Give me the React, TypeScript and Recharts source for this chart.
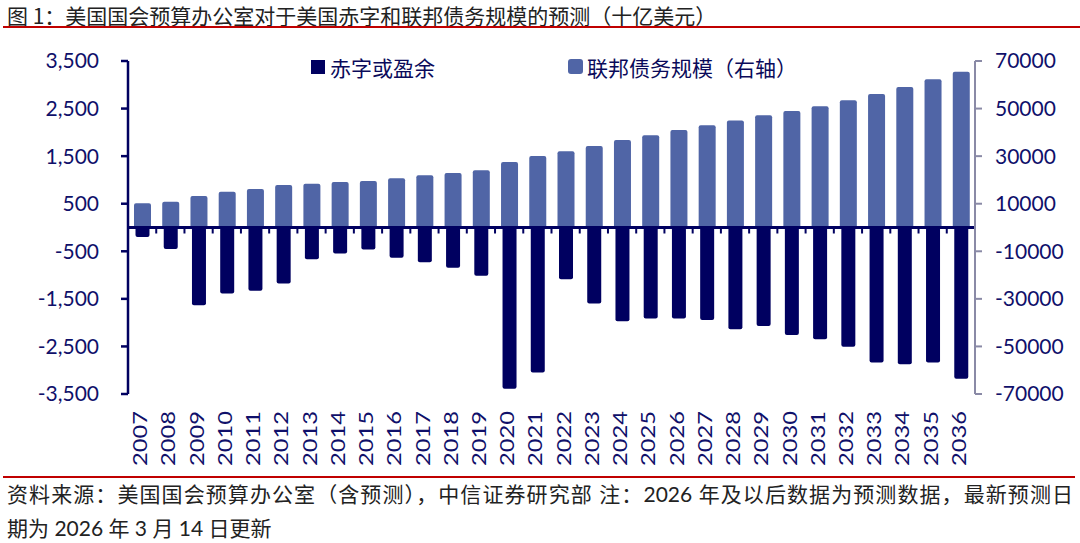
import { BarChart, Bar, XAxis, YAxis, ReferenceLine } from 'recharts'

const years = [
  '2007', '2008', '2009', '2010', '2011', '2012', '2013', '2014', '2015', '2016',
  '2017', '2018', '2019', '2020', '2021', '2022', '2023', '2024', '2025', '2026',
  '2027', '2028', '2029', '2030', '2031', '2032', '2033', '2034', '2035', '2036',
]

// 赤字或盈余（十亿美元，左轴）
const deficit = [
  -200, -450, -1635, -1385, -1330, -1175, -670, -545, -460, -635,
  -730, -845, -1015, -3390, -3050, -1090, -1595, -1970, -1915, -1915,
  -1945, -2140, -2070, -2260, -2350, -2505, -2840, -2875, -2840, -3180,
]

// 联邦债务规模（十亿美元，右轴）
const debt = [
  10170, 10860, 13240, 15060, 16190, 17870, 18430, 19130, 19550, 20670,
  21930, 22910, 24030, 27540, 30060, 32040, 34260, 36790, 38750, 40990,
  42960, 45000, 47170, 48980, 50950, 53470, 56130, 59070, 62300, 65510,
]

const leftTicks = [3500, 2500, 1500, 500, -500, -1500, -2500, -3500]
const rightTicks = [70000, 50000, 30000, 10000, -10000, -30000, -50000, -70000]

const NAVY = '#000060'
const BLUE = '#5065a6'
const TEXT = '#10106a'
const GREY_AXIS = '#8a8aa6'
const RED = '#c00000'
const CJK = "'Noto Sans CJK SC', sans-serif"
const NUM = "Lato, 'Noto Sans CJK SC', sans-serif"

const data = years.map((year, i) => ({ year, deficit: deficit[i], debt: debt[i] }))

function YearTick({ x, y, payload }: any) {
  return (
    <text
      transform={`translate(${x - 2},${y + 17}) rotate(-90) scale(1.25,1)`}
      textAnchor="end"
      dominantBaseline="central"
      fill={TEXT}
      fontSize={19}
      fontFamily={NUM}
    >
      {payload.value}
    </text>
  )
}

// zero line acts as the category axis, with small ticks between categories
function ZeroAxis(props: any) {
  const { x1, y1, x2 } = props
  const step = (x2 - x1) / years.length
  const marks = [x1, ...years.map((_, i) => x1 + step * (i + 1))]
  return (
    <g>
      <line x1={x1} y1={y1} x2={x2} y2={y1} stroke={NAVY} strokeWidth={3} />
      {marks.map((mx, i) => (
        <line key={i} x1={mx} y1={y1} x2={mx} y2={y1 + 6} stroke={NAVY} strokeWidth={2} />
      ))}
    </g>
  )
}

export default function App() {
  return (
    <div style={{ position: 'absolute', left: 0, top: 0, width: 1080, height: 543, background: '#fff', overflow: 'hidden' }}>
      <div style={{ position: 'absolute', left: 7, top: 3, fontSize: 21, lineHeight: '24px', color: '#222', fontFamily: CJK, whiteSpace: 'nowrap' }}>
        图 1：美国国会预算办公室对于美国赤字和联邦债务规模的预测（十亿美元）
      </div>
      <div style={{ position: 'absolute', left: 3, top: 26, width: 1077, height: 2, background: RED }} />

      <BarChart
        width={1080}
        height={543}
        data={data}
        margin={{ top: 61, right: 0, bottom: 0, left: 0 }}
        barGap={-15.5}
        style={{ position: 'absolute', left: 0, top: 0 }}
      >
        <XAxis
          dataKey="year"
          height={149}
          axisLine={false}
          tickLine={false}
          tickSize={0}
          tickMargin={0}
          interval={0}
          tick={YearTick}
        />
        <YAxis
          yAxisId="left"
          width={128}
          domain={[-3500, 3500]}
          ticks={leftTicks}
          interval={0}
          tickSize={7}
          tickMargin={22}
          axisLine={{ stroke: NAVY, strokeWidth: 2.5 }}
          tickLine={{ stroke: NAVY, strokeWidth: 2.5 }}
          tick={{ fill: TEXT, fontSize: 21, fontFamily: NUM }}
          tickFormatter={(v: number) => v.toLocaleString('en-US')}
        />
        <YAxis
          yAxisId="right"
          orientation="right"
          width={105}
          domain={[-70000, 70000]}
          ticks={rightTicks}
          interval={0}
          tickSize={7}
          tickMargin={13}
          axisLine={{ stroke: GREY_AXIS, strokeWidth: 2 }}
          tickLine={{ stroke: GREY_AXIS, strokeWidth: 2 }}
          tick={{ fill: TEXT, fontSize: 21, fontFamily: NUM }}
        />
        <Bar yAxisId="right" dataKey="debt" name="联邦债务规模（右轴）" fill={BLUE} barSize={17} radius={2} isAnimationActive={false} />
        <Bar yAxisId="left" dataKey="deficit" name="赤字或盈余" fill={NAVY} barSize={14} radius={2} isAnimationActive={false} />
        <ReferenceLine yAxisId="left" y={0} shape={ZeroAxis} />
      </BarChart>

      <div style={{ position: 'absolute', left: 311, top: 60, width: 14, height: 14, background: NAVY }} />
      <div style={{ position: 'absolute', left: 330, top: 54, fontSize: 21, lineHeight: '26px', color: '#0a0a5a', fontFamily: CJK }}>
        赤字或盈余
      </div>
      <div style={{ position: 'absolute', left: 568, top: 59, width: 15, height: 15, background: BLUE, borderRadius: 3 }} />
      <div style={{ position: 'absolute', left: 587, top: 54, fontSize: 21, lineHeight: '26px', color: '#0a0a5a', fontFamily: CJK, whiteSpace: 'nowrap' }}>
        联邦债务规模（右轴）
      </div>

      <div style={{ position: 'absolute', left: 3, top: 476, width: 1072, height: 2, background: RED }} />
      <div style={{ position: 'absolute', left: 7, top: 481, width: 1066, fontSize: 21, lineHeight: '26px', color: '#222', fontFamily: NUM, whiteSpace: 'nowrap', textAlign: 'justify', textAlignLast: 'justify' } as any}>
        资料来源：美国国会预算办公室（含预测），中信证券研究部 注：2026 年及以后数据为预测数据，最新预测日
      </div>
      <div style={{ position: 'absolute', left: 7, top: 515, fontSize: 21, lineHeight: '26px', color: '#222', fontFamily: NUM, whiteSpace: 'nowrap' }}>
        期为 2026 年 3 月 14 日更新
      </div>
    </div>
  )
}
